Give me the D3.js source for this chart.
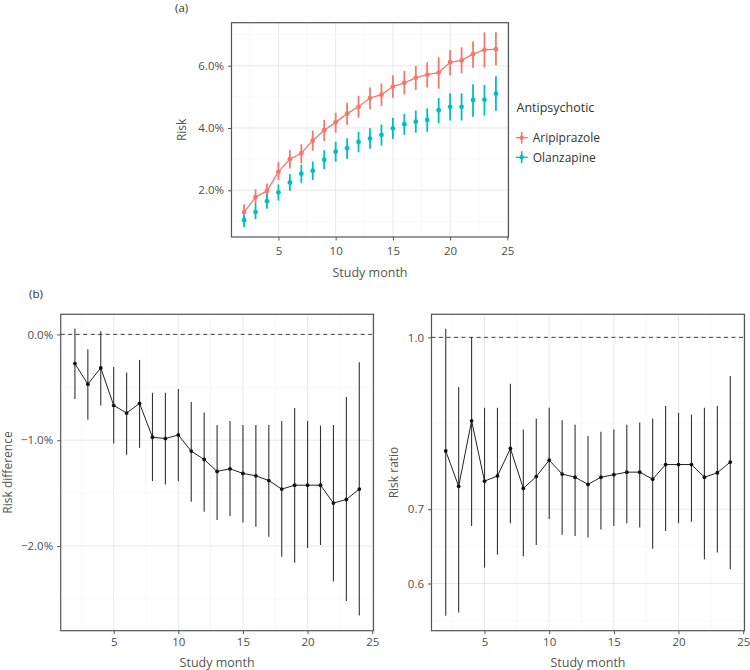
<!DOCTYPE html>
<html><head><meta charset="utf-8">
<script src="https://cdn.jsdelivr.net/npm/d3@7"></script>
<style>body{margin:0;background:#fff} svg text{font-family:'Open Sans','Noto Sans',sans-serif}</style>
</head><body><svg id="c" width="750" height="670"></svg>
<script>
// ---------- data ----------
const months = [2,3,4,5,6,7,8,9,10,11,12,13,14,15,16,17,18,19,20,21,22,23,24];

const aripRisk = [1.30,1.78,1.98,2.59,3.00,3.19,3.60,3.93,4.18,4.46,4.68,4.96,5.07,5.33,5.45,5.61,5.71,5.78,6.11,6.17,6.37,6.51,6.53];
const aripLo   = [1.08,1.56,1.72,2.33,2.70,2.87,3.27,3.58,3.85,4.10,4.33,4.60,4.71,4.97,5.08,5.22,5.30,5.26,5.69,5.75,5.93,5.94,6.01];
const aripHi   = [1.55,2.03,2.22,2.90,3.29,3.48,3.91,4.26,4.49,4.81,5.03,5.30,5.43,5.69,5.83,5.99,6.11,6.27,6.50,6.59,6.78,7.07,7.07];

const olanRisk = [1.04,1.30,1.65,1.93,2.25,2.53,2.63,2.98,3.24,3.35,3.55,3.66,3.78,3.99,4.12,4.20,4.26,4.57,4.68,4.68,4.90,4.91,5.10];
const olanLo   = [0.82,1.07,1.41,1.67,1.98,2.24,2.33,2.68,2.92,3.01,3.22,3.33,3.43,3.65,3.78,3.85,3.88,4.15,4.24,4.24,4.36,4.40,4.55];
const olanHi   = [1.22,1.56,1.88,2.19,2.52,2.82,2.92,3.29,3.56,3.67,3.88,3.99,4.11,4.33,4.45,4.56,4.63,4.96,5.11,5.11,5.40,5.38,5.66];

const rdEst = [-0.276,-0.470,-0.317,-0.671,-0.743,-0.652,-0.972,-0.984,-0.950,-1.103,-1.182,-1.295,-1.270,-1.314,-1.336,-1.381,-1.462,-1.425,-1.425,-1.425,-1.594,-1.560,-1.462];
const rdLo  = [-0.611,-0.806,-0.671,-1.031,-1.138,-1.072,-1.387,-1.418,-1.387,-1.582,-1.676,-1.755,-1.717,-1.777,-1.818,-1.912,-2.100,-2.157,-2.019,-1.990,-2.336,-2.519,-2.657];
const rdHi  = [0.053,-0.141,0.031,-0.307,-0.361,-0.241,-0.552,-0.552,-0.517,-0.639,-0.737,-0.856,-0.818,-0.856,-0.856,-0.856,-0.818,-0.696,-0.818,-0.862,-0.856,-0.592,-0.263];

const rrEst = [0.790,0.734,0.841,0.742,0.750,0.794,0.731,0.749,0.775,0.753,0.748,0.737,0.748,0.752,0.756,0.756,0.745,0.768,0.768,0.768,0.748,0.755,0.772];
const rrLo  = [0.561,0.565,0.676,0.620,0.637,0.680,0.635,0.650,0.686,0.664,0.662,0.660,0.671,0.676,0.680,0.674,0.645,0.669,0.680,0.682,0.631,0.640,0.618];
const rrHi  = [1.018,0.902,1.000,0.864,0.864,0.908,0.826,0.845,0.864,0.842,0.834,0.815,0.822,0.826,0.834,0.838,0.845,0.867,0.855,0.852,0.864,0.867,0.923];

const seriesNames = ["Aripiprazole","Olanzapine"];
const seriesColors = ["#F8766D","#00BFC4"];

const xTicks = [5,10,15,20,25];
const xMinor = [2.5,7.5,12.5,17.5,22.5];
const riskTicks = [2,4,6];
const riskMinor = [1,3,5,7];
const rdTicks = [0,-1,-2];
const rdMinor = [-0.5,-1.5,-2.5];
const rrTicks = [0.6,0.7,1.0];
const rrMinor = [0.555,0.648,0.837];

// ---------- drawing ----------
const svg = d3.select("#c");
const TXT = "#4d4d4d", TITLE = "#555";

function panel(cfg){
  const g = svg.append("g");
  const x = d3.scaleLinear().domain([0.9,25.1]).range([cfg.l, cfg.r]);
  const y = (cfg.log ? d3.scaleLog() : d3.scaleLinear()).domain(cfg.yDom).range([cfg.b, cfg.t]);
  // minor grid
  g.selectAll(".xm").data(xMinor).join("line").attr("x1",d=>x(d)).attr("x2",d=>x(d)).attr("y1",cfg.t).attr("y2",cfg.b)
    .attr("stroke","#f3f3f3").attr("stroke-width",0.6);
  g.selectAll(".ym").data(cfg.yMinor.filter(v=>y(v)>=cfg.t && y(v)<=cfg.b)).join("line").attr("y1",d=>y(d)).attr("y2",d=>y(d)).attr("x1",cfg.l).attr("x2",cfg.r)
    .attr("stroke","#f3f3f3").attr("stroke-width",0.6);
  // major grid
  g.selectAll(".xg").data(xTicks).join("line").attr("x1",d=>x(d)).attr("x2",d=>x(d)).attr("y1",cfg.t).attr("y2",cfg.b)
    .attr("stroke","#e6e6e6").attr("stroke-width",0.9);
  g.selectAll(".yg").data(cfg.yTicks).join("line").attr("y1",d=>y(d)).attr("y2",d=>y(d)).attr("x1",cfg.l).attr("x2",cfg.r)
    .attr("stroke","#e6e6e6").attr("stroke-width",0.9);
  // axes
  const ax = g.append("g").attr("transform",`translate(0,${cfg.b})`)
    .call(d3.axisBottom(x).tickValues(xTicks).tickSize(3.5).tickPadding(cfg.xpad).tickFormat(d3.format("d")));
  const ay = g.append("g").attr("transform",`translate(${cfg.l},0)`)
    .call(d3.axisLeft(y).tickValues(cfg.yTicks).tickSize(3.5).tickPadding(4).tickFormat(cfg.fmt));
  [ax,ay].forEach(a=>{
    a.select(".domain").remove();
    a.selectAll("line").attr("stroke","#555").attr("stroke-width",1);
    a.selectAll("text").attr("fill",TXT).style("font-size","11.5px").style("font-family","'Open Sans',sans-serif");
  });
  // titles
  g.append("text").attr("x",(cfg.l+cfg.r)/2).attr("y",cfg.b+cfg.xtOff).attr("dy","0.35em").attr("text-anchor","middle")
    .attr("fill",TITLE).style("font-size","12.5px").text("Study month");
  g.append("text").attr("transform",`translate(${cfg.ytx},${(cfg.t+cfg.b)/2}) rotate(-90)`).attr("text-anchor","middle")
    .attr("dy","0.35em").attr("fill",TITLE).style("font-size","12px").text(cfg.ytitle);
  return {g,x,y,cfg};
}
function border(p){
  p.g.append("rect").attr("x",p.cfg.l).attr("y",p.cfg.t).attr("width",p.cfg.r-p.cfg.l).attr("height",p.cfg.b-p.cfg.t)
    .attr("fill","none").attr("stroke","#555").attr("stroke-width",1.2);
}

// Panel (a)
const pa = panel({l:231.5,r:508.5,t:22.7,b:237,yDom:[0.50,7.38],yTicks:riskTicks,yMinor:riskMinor,
  fmt:d=>d3.format(".1f")(d)+"%",ytitle:"Risk",ytx:182,xpad:6.5,xtOff:35.7});
const seriesData = [
  {est:aripRisk,lo:aripLo,hi:aripHi,line:true},
  {est:olanRisk,lo:olanLo,hi:olanHi,line:false}
];
seriesData.forEach((s,i)=>{
  const col = seriesColors[i];
  const pts = months.map((m,j)=>({m,e:s.est[j],lo:s.lo[j],hi:s.hi[j]}));
  if(s.line){
    pa.g.append("path").datum(pts).attr("fill","none").attr("stroke",col).attr("stroke-width",1.3)
      .attr("d",d3.line().x(d=>pa.x(d.m)).y(d=>pa.y(d.e)));
  }
  pa.g.selectAll(null).data(pts).join("line").attr("x1",d=>pa.x(d.m)).attr("x2",d=>pa.x(d.m))
    .attr("y1",d=>pa.y(d.lo)).attr("y2",d=>pa.y(d.hi)).attr("stroke",col).attr("stroke-width",1.8);
  pa.g.selectAll(null).data(pts).join("circle").attr("cx",d=>pa.x(d.m)).attr("cy",d=>pa.y(d.e)).attr("r",2.4).attr("fill",col);
});
border(pa);

// legend
const lg = svg.append("g");
lg.append("text").attr("x",516.5).attr("y",107.5).attr("dy","0.35em").attr("fill","#333").style("font-size","12.5px").text("Antipsychotic");
seriesNames.forEach((n,i)=>{
  const cy = 137.7 + i*19.6, cx = 521.7, col = seriesColors[i];
  lg.append("line").attr("x1",cx-6).attr("x2",cx+6).attr("y1",cy).attr("y2",cy).attr("stroke",col).attr("stroke-width",1.3);
  lg.append("line").attr("x1",cx).attr("x2",cx).attr("y1",cy-6).attr("y2",cy+6).attr("stroke",col).attr("stroke-width",1.6);
  lg.append("circle").attr("cx",cx).attr("cy",cy).attr("r",2.2).attr("fill",col);
  lg.append("text").attr("x",532.7).attr("y",cy).attr("dy","0.35em").attr("fill","#333").style("font-size","12px").text(n);
});

// Panel (b)
function effectPanel(p, est, lo, hi, refVal){
  const pts = months.map((m,j)=>({m,e:est[j],lo:lo[j],hi:hi[j]}));
  p.g.append("line").attr("x1",p.cfg.l).attr("x2",p.cfg.r).attr("y1",p.y(refVal)).attr("y2",p.y(refVal))
    .attr("stroke","#444").attr("stroke-width",1).attr("stroke-dasharray","4,3.5");
  p.g.selectAll(null).data(pts).join("line").attr("x1",d=>p.x(d.m)).attr("x2",d=>p.x(d.m))
    .attr("y1",d=>p.y(d.lo)).attr("y2",d=>p.y(d.hi)).attr("stroke","#333").attr("stroke-width",1.1);
  p.g.append("path").datum(pts).attr("fill","none").attr("stroke","#222").attr("stroke-width",1)
    .attr("d",d3.line().x(d=>p.x(d.m)).y(d=>p.y(d.e)));
  p.g.selectAll(null).data(pts).join("circle").attr("cx",d=>p.x(d.m)).attr("cy",d=>p.y(d.e)).attr("r",1.9).attr("fill","#111");
  border(p);
}
const pb1 = panel({l:60.7,r:373.5,t:314.3,b:630.7,yDom:[-2.80,0.19],yTicks:rdTicks,yMinor:rdMinor,
  fmt:d=>d3.format(".1f")(d)+"%",ytitle:"Risk difference",ytx:7.5,xpad:4,xtOff:31.5});
effectPanel(pb1, rdEst, rdLo, rdHi, 0);

const pb2 = panel({l:431.5,r:744.5,t:314.3,b:630.7,log:true,yDom:[0.544,1.049],yTicks:rrTicks,yMinor:rrMinor,
  fmt:d3.format(".1f"),ytitle:"Risk ratio",ytx:393.5,xpad:4,xtOff:31.5});
effectPanel(pb2, rrEst, rrLo, rrHi, 1.0);

// panel tags
svg.append("text").attr("x",175).attr("y",8).attr("dy","0.35em").attr("fill","#333").style("font-size","11.5px").text("(a)");
svg.append("text").attr("x",29).attr("y",294).attr("dy","0.35em").attr("fill","#333").style("font-size","11.5px").text("(b)");
</script></body></html>
